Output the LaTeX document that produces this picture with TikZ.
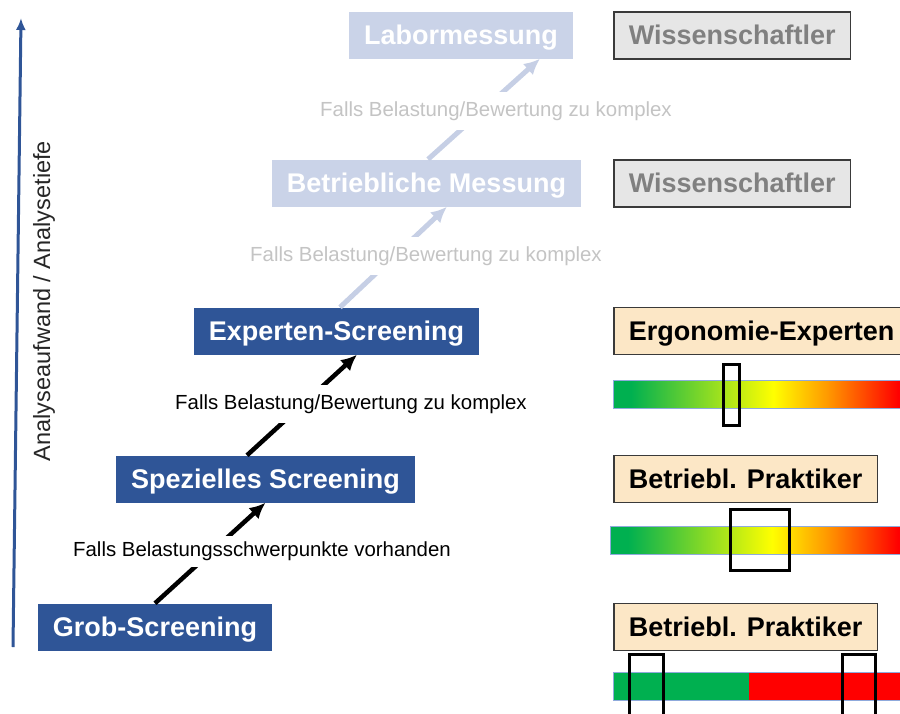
\documentclass[tikz,border=0pt]{standalone}
\usepackage{fontspec}
\setmainfont{Liberation Sans}
\usepackage{tikz}
\usetikzlibrary{shapes}
\usetikzlibrary{arrows.meta}
\definecolor{stufe}{HTML}{2F5597}
\definecolor{blass}{HTML}{CAD3E8}
\definecolor{blasspfeil}{HTML}{C6CFE5}
\definecolor{blasstext}{HTML}{C4C4C4}
\definecolor{beige}{HTML}{FCE7C6}
\definecolor{grau}{HTML}{E6E6E6}
\definecolor{grautext}{HTML}{808080}
\definecolor{rand}{HTML}{3A3A3A}
\definecolor{ampelgruen}{HTML}{00B050}
\definecolor{ampelrot}{HTML}{FF0000}
\definecolor{ampelorange}{HTML}{FF9A00}
\definecolor{balkenrand}{HTML}{8FAADC}
\pgfdeclarehorizontalshading{ampel}{100bp}{color(0bp)=(ampelgruen); color(28bp)=(ampelgruen);
color(52bp)=(yellow); color(61bp)=(ampelorange); color(73bp)=(ampelrot); color(100bp)=(ampelrot)}
\tikzstyle{Stufe} = [rectangle, minimum height=47pt, inner xsep=15pt, text centered, fill=stufe,
text=white, text height=24pt, text depth=6pt, font=\fontsize{27}{32}\selectfont\bfseries]
\tikzstyle{Blass} = [Stufe, fill=blass]
\tikzstyle{Rolle} = [rectangle, anchor=west, minimum height=47pt, inner xsep=15pt, text centered,
draw=rand, line width=1.5pt, fill=beige, text height=24pt, text depth=6pt,
font=\fontsize{27}{32}\selectfont\bfseries]
\tikzstyle{Wiss} = [Rolle, fill=grau, text=grautext]
\tikzstyle{Bedingung} = [fill=white, inner sep=1pt, minimum height=38pt, font=\fontsize{20.4}{24}\selectfont]
\tikzstyle{arrow} = [line width=4.5pt, -{Latex[length=16pt,width=15pt]}]
\tikzstyle{blassarrow} = [arrow, line width=5pt, draw=blasspfeil]
\tikzstyle{achse} = [line width=3pt, draw=stufe, -{Latex[length=12pt,width=10pt]}]
\tikzstyle{balken} = [draw=balkenrand, line width=1pt]
\tikzstyle{marker} = [draw=black, line width=3pt]

\begin{document}
\begin{tikzpicture}[x=1pt, y=-1pt, node distance=148pt]
  \useasboundingbox (0,0) rectangle (900,713);

  \node(labor)[Blass] at (461,35) {Labormessung};
  \node(betrieb)[Blass, below of=labor, xshift=-34.5pt]{Betriebliche Messung};
  \node(experten)[Stufe, below of=betrieb, xshift=-90pt]{Experten-Screening};
  \node(speziell)[Stufe, below of=experten, xshift=-71pt]{Spezielles Screening};
  \node(grob)[Stufe, below of=speziell, xshift=-110.5pt]{Grob-Screening};

  \node(wiss1)[Wiss] at (613,35.5) {Wissenschaftler};
  \node(wiss2)[Wiss] at (613,183.5) {Wissenschaftler};
  \node(ergo)[Rolle] at (613,331) {Ergonomie-Experten};
  \node(praktiker1)[Rolle] at (613,479) {Betriebl. Praktiker};
  \node(praktiker2)[Rolle] at (613,627) {Betriebl. Praktiker};

  \draw[arrow] (grob.north) -- (speziell.south);
  \draw[arrow] ([xshift=-18.5pt]speziell.north) -- ([xshift=20.5pt]experten.south);
  \draw[blassarrow] ([xshift=3.5pt]experten.north) -- ([xshift=20.5pt]betrieb.south);
  \draw[blassarrow] ([xshift=1.5pt]betrieb.north) -- ([xshift=79pt]labor.south);

  \node(bed1)[Bedingung, minimum height=31pt] at (262,551) {Falls Belastungsschwerpunkte vorhanden};
  \node(bed2)[Bedingung] at (351,404) {Falls Belastung/Bewertung zu komplex};
  \node(bed3)[Bedingung, text=blasstext] at (426,256) {Falls Belastung/Bewertung zu komplex};
  \node(bed4)[Bedingung, text=blasstext] at (496,111) {Falls Belastung/Bewertung zu komplex};

  % Achse links
  \coordinate (achseunten) at (13,647);
  \coordinate (achseoben) at (21,18);
  \draw[achse] (achseunten) -- (achseoben);
  \node(achsentext)[rotate=90, font=\fontsize{23.5}{28}\selectfont, text=black!85] at (44,301)
    {Analyseaufwand / Analysetiefe};

  % Bewertungsbalken
  \draw[balken, shade, shading=ampel] (613,380) rectangle (910,408);
  \draw[balken, shade, shading=ampel] (610,526) rectangle (910,554);
  \fill[ampelgruen] (613,672) rectangle (749,700);
  \fill[ampelrot] (749,672) rectangle (910,700);
  \draw[balken] (613,672) rectangle (910,700);

  \draw[marker] (723,364) rectangle (739,425);
  \draw[marker] (730,509) rectangle (789,570);
  \draw[marker] (629,654) rectangle (663,730);
  \draw[marker] (842,654) rectangle (875,730);

\end{tikzpicture}
\end{document}
